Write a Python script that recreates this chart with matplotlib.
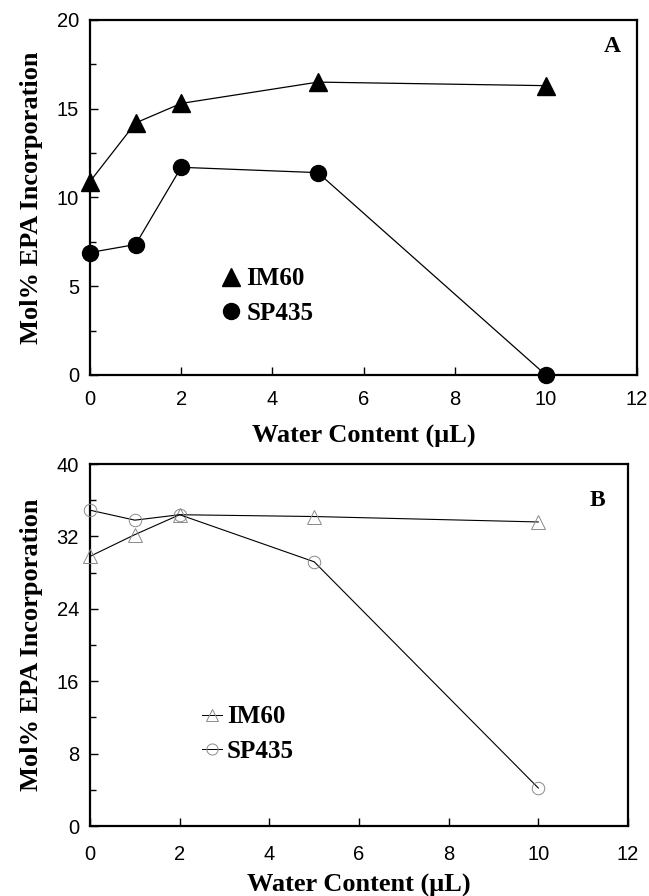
import matplotlib
matplotlib.use('Agg')
from matplotlib import pyplot as plt
from matplotlib.lines import Line2D
from matplotlib.ticker import MultipleLocator

# water content (uL)
water = [0, 1, 2, 5, 10]

# panel A
im60_a = [10.9, 14.2, 15.3, 16.5, 16.3]
sp435_a = [6.9, 7.35, 11.7, 11.4, 0.0]

# panel B
im60_b = [29.8, 32.2, 34.4, 34.2, 33.6]
sp435_b = [34.9, 33.8, 34.4, 29.2, 4.2]

serif = ['Liberation Serif', 'DejaVu Serif']
sans = ['Liberation Sans', 'DejaVu Sans']

fig = plt.figure(figsize=(6.49, 8.96), dpi=100)
axA = fig.add_axes([0.1387, 0.5815, 0.8428, 0.3962])
axB = fig.add_axes([0.1387, 0.0781, 0.8289, 0.4040])


def style_axes(ax, ymax, ymajor, yminor, tpad, xpad):
    ax.set_xlim(0, 12)
    ax.set_ylim(0, ymax)
    ax.xaxis.set_major_locator(MultipleLocator(2))
    ax.yaxis.set_major_locator(MultipleLocator(ymajor))
    ax.yaxis.set_minor_locator(MultipleLocator(yminor))
    ax.tick_params(which='both', direction='in', top=False, right=False)
    ax.tick_params(which='major', length=6, width=1, labelsize=14.5)
    ax.tick_params(which='minor', length=4, width=1)
    ax.tick_params(axis='x', pad=tpad)
    ax.tick_params(axis='y', pad=8)
    for lab in ax.get_xticklabels() + ax.get_yticklabels():
        lab.set_family(sans)
    for sp in ax.spines.values():
        sp.set_linewidth(1.6)
    ax.set_xlabel('Water Content (\u03bcL)', fontsize=19, fontweight='bold',
                  family=serif, labelpad=xpad)
    ax.set_ylabel('Mol% EPA Incorporation', fontsize=19, fontweight='bold',
                  family=serif, labelpad=10)


# Panel A - filled markers
axA.plot(water, im60_a, color='k', lw=0.9, marker='^', ms=13,
         mfc='k', mec='k', clip_on=False, zorder=3)
axA.plot(water, sp435_a, color='k', lw=0.9, marker='o', ms=11.5,
         mfc='k', mec='k', clip_on=False, zorder=3)
style_axes(axA, 20, 5, 2.5, 11, 11)
axA.text(0.955, 0.924, 'A', transform=axA.transAxes, fontsize=17,
         fontweight='bold', family=serif, ha='center', va='center')
hA = [Line2D([], [], ls='none', marker='^', ms=13, color='k'),
      Line2D([], [], ls='none', marker='o', ms=11.5, color='k')]
axA.legend(hA, ['IM60', 'SP435'], loc='center left',
           bbox_to_anchor=(0.24, 0.2225), frameon=False,
           handlelength=0.8, handletextpad=0.2, borderpad=0,
           borderaxespad=0, labelspacing=0.45,
           prop={'family': serif, 'weight': 'bold', 'size': 18})

# Panel B - open faint markers
axB.plot(water, im60_b, color='k', lw=0.8, marker='^', ms=10,
         mfc='none', mec='#8a8a8a', mew=0.7, clip_on=False, zorder=3)
axB.plot(water, sp435_b, color='k', lw=0.8, marker='o', ms=9,
         mfc='none', mec='#8a8a8a', mew=0.7, clip_on=False, zorder=3)
style_axes(axB, 40, 8, 4, 14, 7)
axB.text(0.944, 0.898, 'B', transform=axB.transAxes, fontsize=17,
         fontweight='bold', family=serif, ha='center', va='center')
hB = [Line2D([], [], color='k', lw=0.7, marker='^', ms=9,
             mfc='none', mec='#8a8a8a', mew=0.7),
      Line2D([], [], color='k', lw=0.7, marker='o', ms=8,
             mfc='none', mec='#8a8a8a', mew=0.7)]
axB.legend(hB, ['IM60', 'SP435'], loc='center left',
           bbox_to_anchor=(0.208, 0.254), frameon=False,
           handlelength=0.8, handletextpad=0.2, borderpad=0,
           borderaxespad=0, labelspacing=0.45,
           prop={'family': serif, 'weight': 'bold', 'size': 18})

fig.savefig('out.png', dpi=100)
